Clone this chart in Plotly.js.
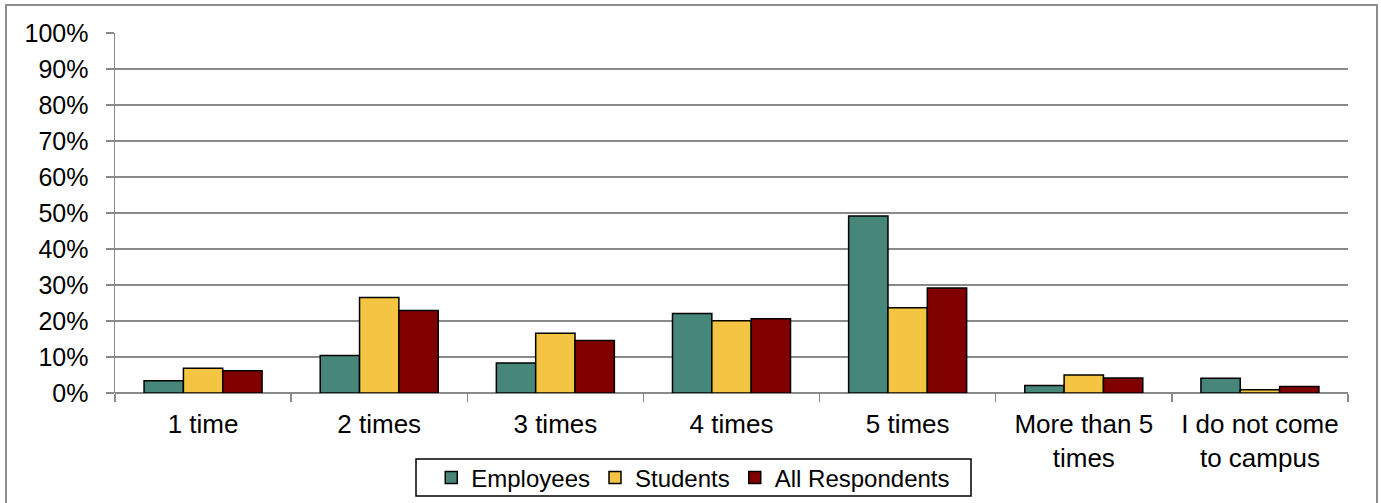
<!DOCTYPE html>
<html>
<head>
<meta charset="utf-8">
<script src="https://cdn.plot.ly/plotly-3.0.1.min.js"></script>
<style>html,body{margin:0;padding:0;background:#fff;}#chart{width:1381px;height:503px;}</style>
</head>
<body>
<div id="chart"></div>
<script>
const categories = ["1 time", "2 times", "3 times", "4 times", "5 times", "More than 5<br>times", "I do not come<br>to campus"];
const employees = [0.034, 0.104, 0.083, 0.221, 0.492, 0.021, 0.041];
const students = [0.069, 0.265, 0.166, 0.201, 0.237, 0.050, 0.009];
const allRespondents = [0.062, 0.229, 0.146, 0.206, 0.292, 0.042, 0.018];
const seriesNames = ["Employees", "Students", "All Respondents"];
const seriesColors = ["#46877A", "#F4C542", "#800000"];
const yTickVals = [0, 0.1, 0.2, 0.3, 0.4, 0.5, 0.6, 0.7, 0.8, 0.9, 1.0];
const yTickText = ["0%", "10%", "20%", "30%", "40%", "50%", "60%", "70%", "80%", "90%", "100%"];

const seriesData = [employees, students, allRespondents];
const traces = seriesData.map((vals, i) => ({
  type: "bar",
  name: seriesNames[i],
  x: categories,
  y: vals,
  marker: { color: seriesColors[i], line: { color: "#000000", width: 1.5 } },
  hoverinfo: "skip"
}));

const W = 1381, H = 503;
const L = 115, R = 33, T = 33, B = 110;
const pw = W - L - R, ph = H - T - B;
function px2x(p) { return (p - L) / pw; }
function py2y(p) { return (H - B - p) / ph; }

const layout = {
  width: W, height: H,
  margin: { l: L, r: R, t: T, b: B, pad: 0 },
  paper_bgcolor: "#ffffff",
  plot_bgcolor: "#ffffff",
  font: { family: "Liberation Sans, Arial, sans-serif", size: 24, color: "#000000" },
  barmode: "group",
  bargap: 0.33,
  bargroupgap: 0,
  showlegend: true,
  legend: {
    orientation: "h",
    xref: "container", yref: "container",
    x: 0.502, xanchor: "center",
    y: 1 - 478 / H, yanchor: "middle",
    borderwidth: 0,
    bgcolor: "rgba(0,0,0,0)",
    font: { size: 24, color: "#000000" },
    itemwidth: 30,
    traceorder: "normal"
  },
  xaxis: {
    type: "category",
    showgrid: false,
    showline: false,
    zeroline: false,
    ticks: "outside",
    tickson: "boundaries",
    ticklen: 8,
    tickwidth: 1.5,
    tickcolor: "#8a8a8a",
    ticklabelstandoff: 13,
    tickfont: { size: 26, color: "#000000" },
    automargin: false
  },
  yaxis: {
    range: [0, 1],
    tickvals: yTickVals,
    ticktext: yTickText,
    showgrid: true,
    gridcolor: "#8a8a8a",
    gridwidth: 1.5,
    zeroline: true,
    zerolinecolor: "#8a8a8a",
    zerolinewidth: 1.5,
    showline: true,
    linecolor: "#8a8a8a",
    linewidth: 1.5,
    ticks: "outside",
    ticklen: 8,
    tickwidth: 1.5,
    tickcolor: "#8a8a8a",
    ticklabelstandoff: 12,
    tickfont: { size: 25, color: "#000000" },
    fixedrange: true,
    automargin: false
  },
  shapes: [{
    type: "rect", xref: "paper", yref: "paper",
    x0: px2x(6), x1: px2x(1377), y0: py2y(515), y1: py2y(5),
    line: { color: "#8c8c8c", width: 2 },
    fillcolor: "rgba(0,0,0,0)",
    layer: "below"
  }, {
    type: "rect", xref: "paper", yref: "paper",
    x0: px2x(416), x1: px2x(971), y0: py2y(496), y1: py2y(459),
    line: { color: "#000000", width: 1.5 },
    fillcolor: "rgba(0,0,0,0)",
    layer: "above"
  }]
};

Plotly.newPlot("chart", traces, layout, { displayModeBar: false, staticPlot: true });
</script>
</body>
</html>
